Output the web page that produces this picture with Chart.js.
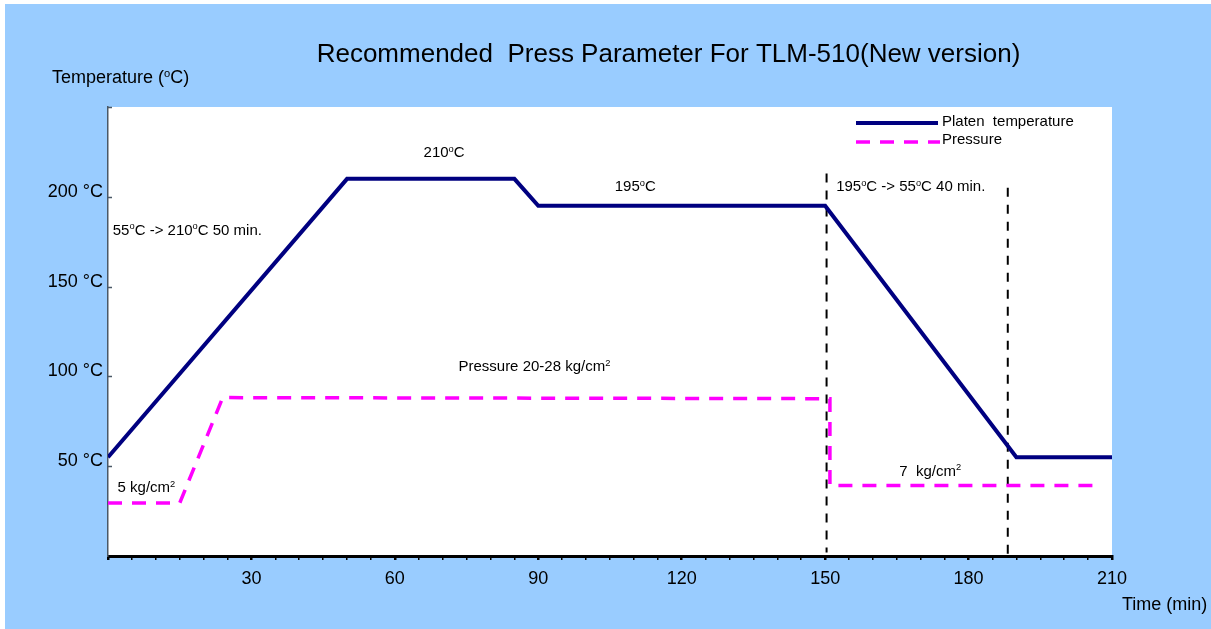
<!DOCTYPE html>
<html>
<head>
<meta charset="utf-8">
<script src="https://cdn.jsdelivr.net/npm/chart.js@4.4.1/dist/chart.umd.min.js"></script>
<style>
	html, body { margin: 0; padding: 0; background: #fff; }
	canvas { display: block; }
</style>
</head>
<body>
<canvas id="chrt" width="1211" height="629"></canvas>
<script>
// values (time in min, temperature in oC)
var tempTime = [0, 50, 85, 90, 150, 190, 210];
var tempValue = [55, 210, 210, 195, 195, 55, 55];

// pressure curve, drawn on the temperature scale as in the original
var pressTime = [0, 15, 24, 151, 151, 206];
var pressValue = [29.5, 29.5, 88.2, 87.6, 39.3, 39.3];

// the two black dashed marker lines
var mark1Time = [150.3, 150.3];
var mark1Value = [213, 2];
var mark2Time = [188.2, 188.2];
var mark2Value = [205, 0];

var yTicks = [50, 100, 150, 200];
var xLabelTicks = [30, 60, 90, 120, 150, 180, 210];

var FONT = '"Liberation Sans", Arial, sans-serif';

// text notes placed on the chart: [text, time, temp, align]  (^x = superscript x)
var notes = [
	['210^oC', 66, 222, 'left'],
	['195^oC', 106, 203, 'left'],
	['55^oC -> 210^oC 50 min.', 1, 179, 'left'],
	['195^oC -> 55^oC 40 min.', 152.3, 203, 'left'],
	['Pressure 20-28 kg/cm^2', 73.3, 102.8, 'left'],
	['5 kg/cm^2', 2, 35.5, 'left'],
	['7  kg/cm^2', 165.5, 44.8, 'left']
];

function pts(xs, ys) {
	return xs.map(function (x, i) { return { x: x, y: ys[i] }; });
}

function drawRich(ctx, str, x, y, size, align) {
	var parts = str.split(/\^(.)/);
	var w = 0;
	parts.forEach(function (p, i) {
		ctx.font = (i % 2 ? size * 0.62 : size) + 'px ' + FONT;
		w += ctx.measureText(p).width;
	});
	if (align == 'center') x -= w / 2;
	ctx.textBaseline = 'alphabetic';
	ctx.textAlign = 'left';
	parts.forEach(function (p, i) {
		var sup = i % 2;
		ctx.font = (sup ? size * 0.62 : size) + 'px ' + FONT;
		ctx.fillText(p, x, sup ? y - size * 0.36 : y);
		x += ctx.measureText(p).width;
	});
}

var decor = {
	id: 'decor',
	beforeDraw: function (chart) {
		var ctx = chart.ctx, a = chart.chartArea;
		ctx.save();
		ctx.fillStyle = '#ffffff';
		ctx.fillRect(0, 0, chart.width, chart.height);
		ctx.fillStyle = '#99ccff';
		ctx.fillRect(5, 4, chart.width - 5, chart.height - 4);
		ctx.fillStyle = '#ffffff';
		ctx.fillRect(a.left, a.top, a.right - a.left, a.bottom - a.top);
		ctx.restore();
	},
	afterDraw: function (chart) {
		var ctx = chart.ctx, a = chart.chartArea;
		var xs = chart.scales.x, ys = chart.scales.y;
		ctx.save();
		ctx.fillStyle = '#000';
		drawRich(ctx, 'Recommended  Press Parameter For TLM-510(New version)', 668.5, 62, 26, 'center');
		drawRich(ctx, 'Temperature (^oC)', 52, 83, 18, 'left');
		drawRich(ctx, 'Time (min)', 1122, 610, 18, 'left');

		notes.forEach(function (n) {
			drawRich(ctx, n[0], xs.getPixelForValue(n[1]), ys.getPixelForValue(n[2]), 15, n[3]);
		});

		// small inner ticks on the temperature axis
		ctx.strokeStyle = '#4a5866';
		ctx.lineWidth = 1.5;
		[50, 100, 150, 200, 250].forEach(function (v) {
			var py = Math.round(ys.getPixelForValue(v)) + 0.5;
			ctx.beginPath();
			ctx.moveTo(a.left, py);
			ctx.lineTo(a.left + 4, py);
			ctx.stroke();
		});

		// legend, top right inside the plot
		var d = chart.data.datasets;
		ctx.lineWidth = d[0].borderWidth;
		ctx.strokeStyle = d[0].borderColor;
		ctx.setLineDash([]);
		ctx.beginPath();
		ctx.moveTo(856, 123);
		ctx.lineTo(938, 123);
		ctx.stroke();
		ctx.lineWidth = d[1].borderWidth;
		ctx.strokeStyle = d[1].borderColor;
		ctx.setLineDash(d[1].borderDash);
		ctx.beginPath();
		ctx.moveTo(856, 142);
		ctx.lineTo(940, 142);
		ctx.stroke();
		ctx.setLineDash([]);
		ctx.fillStyle = '#000';
		drawRich(ctx, d[0].label, 942, 126, 15, 'left');
		drawRich(ctx, d[1].label, 942, 144, 15, 'left');
		ctx.restore();
	}
};

Chart.defaults.color = '#000';
Chart.defaults.font.family = FONT;

var chart = new Chart(document.getElementById('chrt').getContext('2d'), {
	type: 'line',
	data: {
		datasets: [
			{
				label: 'Platen  temperature',
				data: pts(tempTime, tempValue),
				borderColor: '#000080',
				borderWidth: 4,
				order: 0
			},
			{
				label: 'Pressure',
				data: pts(pressTime, pressValue),
				borderColor: '#ff00ff',
				borderWidth: 3.5,
				borderDash: [14, 10],
				order: 1
			},
			{
				label: 'mark1',
				data: pts(mark1Time, mark1Value),
				borderColor: '#000',
				borderWidth: 2,
				borderDash: [9, 8],
				order: 2
			},
			{
				label: 'mark2',
				data: pts(mark2Time, mark2Value),
				borderColor: '#000',
				borderWidth: 2,
				borderDash: [9, 8],
				order: 2
			}
		]
	},
	options: {
		responsive: false,
		animation: false,
		devicePixelRatio: 1,
		layout: { padding: { top: 107, right: 99, left: 0, bottom: 0 } },
		elements: {
			point: { radius: 0 },
			line: { tension: 0, fill: false, borderJoinStyle: 'miter' }
		},
		plugins: {
			legend: { display: false },
			tooltip: { enabled: false }
		},
		scales: {
			x: {
				type: 'linear',
				min: 0,
				max: 210,
				afterFit: function (s) { s.height = 73; },
				border: { color: '#000', width: 3 },
				grid: {
					drawOnChartArea: false,
					drawTicks: true,
					tickLength: 4,
					color: '#000',
					lineWidth: function (c) { return c.tick && c.tick.value % 30 === 0 ? 2.5 : 1.5; }
				},
				ticks: {
					stepSize: 5,
					autoSkip: false,
					maxRotation: 0,
					padding: 8,
					font: { size: 18 },
					callback: function (v) { return xLabelTicks.indexOf(v) >= 0 ? String(v) : ''; }
				}
			},
			y: {
				min: 0,
				max: 250,
				afterFit: function (s) { s.width = 108; },
				border: { color: '#4a5866', width: 1.5 },
				grid: { display: true, drawOnChartArea: false, drawTicks: false },
				ticks: {
					stepSize: 50,
					padding: 5,
					labelOffset: -5,
					font: { size: 18 },
					callback: function (v) { return yTicks.indexOf(v) >= 0 ? v + ' \u00B0C' : ''; }
				}
			}
		}
	},
	plugins: [decor]
});
</script>
</body>
</html>
